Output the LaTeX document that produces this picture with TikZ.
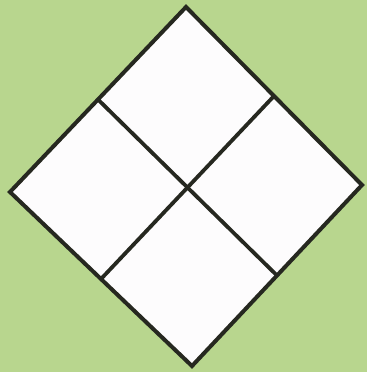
\documentclass[tikz,border=0pt]{standalone}
\usetikzlibrary{calc}
\definecolor{bggreen}{RGB}{184,214,142}
\definecolor{edge}{RGB}{38,40,32}
\definecolor{panel}{RGB}{253,252,253}
\tikzset{outline/.style={draw=edge,line width=4pt,line join=miter},
  divider/.style={draw=edge,line width=3.8pt}}
\begin{document}
\begin{tikzpicture}[x=1pt,y=-1pt]
\fill[bggreen] (0,0) rectangle (367,372);
\useasboundingbox (0,0) rectangle (367,372);
\coordinate (T) at (186,7);
\coordinate (R) at (362,185);
\coordinate (B) at (192,366);
\coordinate (L) at (10,192);
\coordinate (TL) at ($(T)!0.5!(L)$);
\coordinate (TR) at ($(T)!0.5!(R)$);
\coordinate (BL) at ($(B)!0.5!(L)$);
\coordinate (BR) at ($(B)!0.5!(R)$);
\fill[panel] (T) -- (R) -- (B) -- (L) -- cycle;
\draw[divider] (TL) -- (BR);
\draw[divider] (TR) -- (BL);
\draw[outline] (T) -- (R) -- (B) -- (L) -- cycle;
\end{tikzpicture}
\end{document}
